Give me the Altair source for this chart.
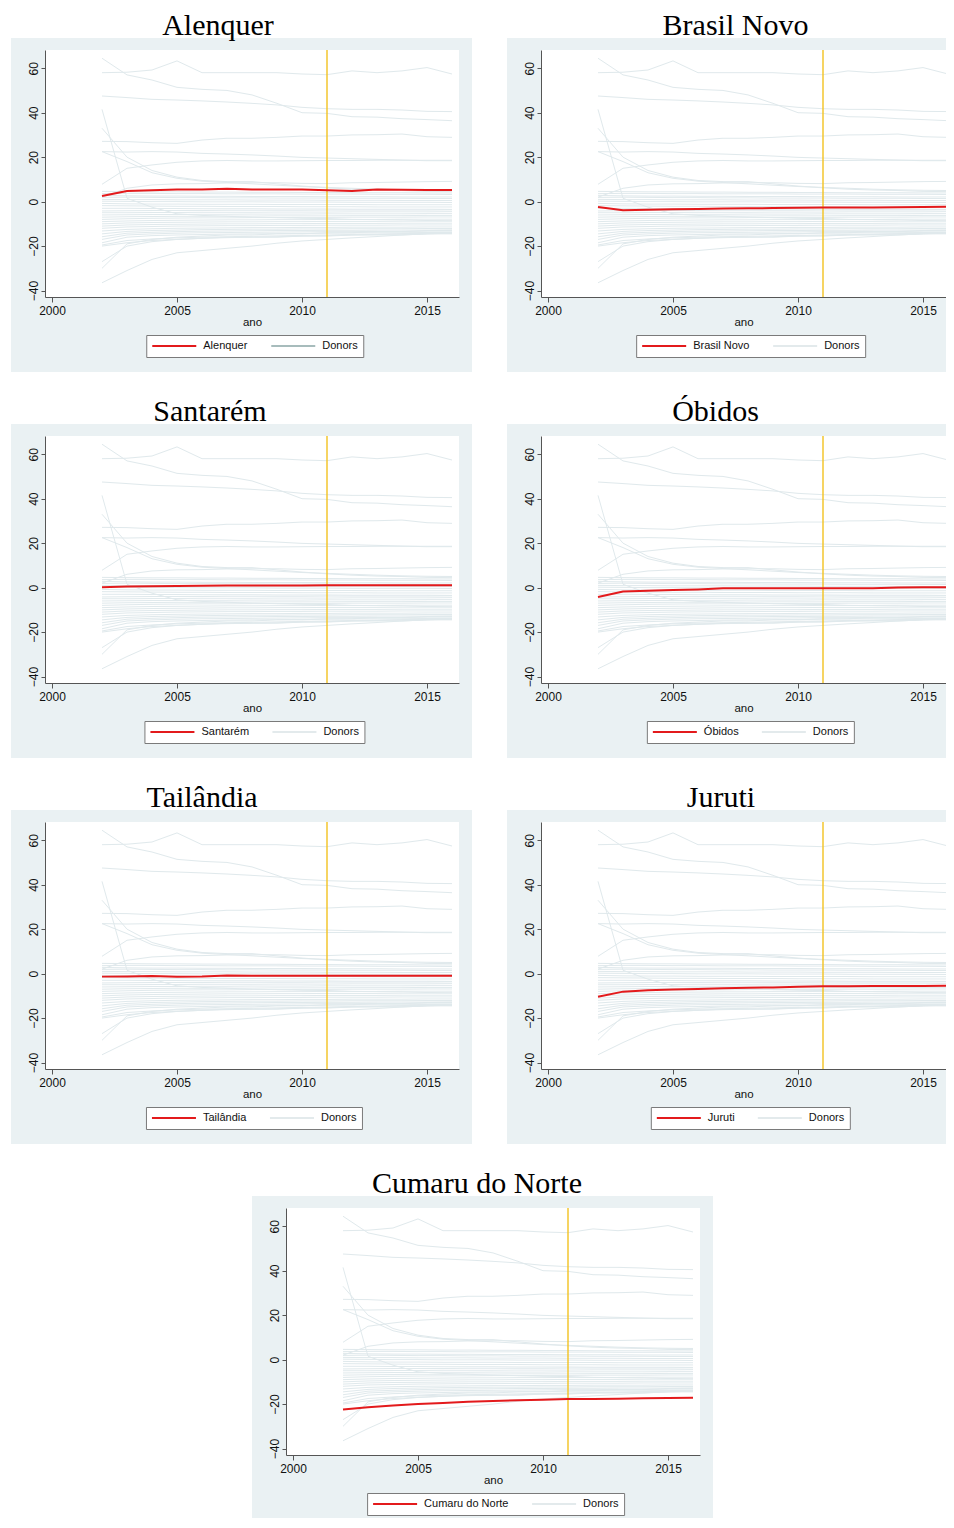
import altair as alt
import pandas as pd

years = list(range(2002, 2017))
treat_year = [2011]

# treated units (name -> series 2002..2016)
units = ["Alenquer", "Brasil Novo", "Santarém", "Óbidos", "Tailândia", "Juruti", "Cumaru do Norte"]
alenquer = [2.5, 4.8, 5.1, 5.4, 5.5, 5.8, 5.5, 5.5, 5.5, 5.1, 4.8, 5.4, 5.3, 5.2, 5.2]
brasil_novo = [-2.4, -3.9, -3.6, -3.4, -3.3, -3.1, -3.0, -2.9, -2.8, -2.6, -2.6, -2.6, -2.5, -2.4, -2.3]
santarem = [0.2, 0.45, 0.6, 0.7, 0.8, 1.0, 1.0, 1.0, 1.0, 1.1, 1.1, 1.1, 1.1, 1.1, 1.1]
obidos = [-4.2, -1.7, -1.4, -1.1, -0.8, -0.3, -0.3, -0.3, -0.3, -0.3, -0.3, -0.3, 0.1, 0.2, 0.2]
tailandia = [-1.35, -1.3, -1.1, -1.35, -1.3, -0.9, -1.0, -1.0, -1.0, -1.0, -1.0, -1.0, -1.0, -1.0, -1.0]
juruti = [-10.4, -8.1, -7.5, -7.1, -6.9, -6.6, -6.3, -6.2, -5.9, -5.7, -5.7, -5.6, -5.6, -5.6, -5.4]
cumaru = [-22.4, -21.4, -20.6, -20.0, -19.5, -18.9, -18.6, -18.3, -18.0, -17.7, -17.7, -17.6, -17.4, -17.3, -17.1]
treated = [alenquer, brasil_novo, santarem, obidos, tailandia, juruti, cumaru]

# donor pool (same in every panel), 2002..2016
donors = [
    [64.5, 57.0, 54.7, 51.4, 50.5, 50.0, 48.0, 44.2, 40.0, 39.7, 38.2, 38.0, 37.3, 36.9, 36.4],
    [58.0, 58.2, 59.2, 63.3, 58.0, 58.0, 58.0, 58.0, 57.4, 57.1, 58.8, 58.0, 58.8, 60.3, 57.4],
    [47.5, 46.8, 46.0, 45.7, 45.3, 44.8, 44.2, 43.5, 42.4, 41.8, 41.5, 41.5, 41.2, 40.6, 40.5],
    [27.1, 27.0, 26.5, 26.2, 27.7, 28.5, 28.5, 28.9, 29.5, 29.5, 30.0, 30.1, 30.4, 29.2, 28.9],
    [22.5, 22.3, 22.5, 22.3, 21.7, 21.4, 21.0, 20.5, 19.9, 19.6, 19.3, 19.0, 18.7, 18.4, 18.4],
    [7.8, 15.0, 16.5, 17.7, 18.3, 18.5, 18.3, 18.3, 18.4, 18.5, 18.5, 18.6, 18.6, 18.6, 18.6],
    [41.5, 1.5, -2.5, -5.5, -6.2, -6.6, -7.0, -7.2, -7.5, -7.6, -8.0, -8.1, -8.2, -8.5, -8.6],
    [33.0, 20.0, 14.0, 11.0, 9.5, 9.0, 9.0, 8.0, 7.0, 6.2, 5.6, 5.2, 5.0, 4.6, 4.5],
    [22.5, 18.0, 13.0, 10.5, 9.2, 8.6, 8.0, 7.4, 6.8, 6.4, 6.0, 5.6, 5.3, 5.1, 5.0],
    [2.0, 6.0, 7.5, 8.0, 8.1, 8.4, 8.5, 8.5, 8.2, 8.1, 8.5, 8.6, 8.8, 9.0, 9.1],
    [-36.5, -31.0, -26.0, -23.0, -22.0, -21.0, -20.0, -18.7, -17.7, -17.0, -16.3, -15.7, -15.0, -14.5, -14.2],
    [-30.0, -19.0, -17.0, -16.0, -15.5, -15.0, -15.0, -14.5, -14.5, -14.0, -14.0, -13.5, -13.5, -13.0, -13.0],
    [-27.0, -20.0, -18.0, -17.0, -16.5, -16.0, -16.0, -16.0, -15.5, -15.5, -15.0, -15.0, -15.0, -14.5, -14.5],
    [4.6, 4.5, 4.4, 4.4, 4.3, 4.3, 4.2, 4.2, 4.1, 4.1, 4.0, 4.0, 4.0, 3.9, 3.9],
    [3.6, 3.7, 3.7, 3.6, 3.6, 3.5, 3.5, 3.5, 3.4, 3.4, 3.4, 3.3, 3.3, 3.3, 3.2],
    [2.8, 2.6, 2.5, 2.5, 2.4, 2.4, 2.3, 2.3, 2.3, 2.2, 2.2, 2.2, 2.1, 2.1, 2.1],
    [1.9, 2.0, 1.9, 1.8, 1.8, 1.7, 1.7, 1.6, 1.6, 1.6, 1.5, 1.5, 1.5, 1.4, 1.4],
    [1.0, 0.9, 0.9, 0.8, 0.8, 0.8, 0.7, 0.7, 0.7, 0.6, 0.6, 0.6, 0.5, 0.5, 0.5],
    [0.2, 0.1, 0.0, 0.0, -0.1, -0.1, -0.1, -0.2, -0.2, -0.2, -0.3, -0.3, -0.3, -0.3, -0.4],
    [-0.8, -1.0, -1.1, -1.1, -1.2, -1.2, -1.2, -1.3, -1.3, -1.3, -1.3, -1.4, -1.4, -1.4, -1.4],
    [-1.8, -1.9, -2.0, -2.1, -2.1, -2.2, -2.2, -2.2, -2.3, -2.3, -2.3, -2.4, -2.4, -2.4, -2.4],
    [-3.0, -3.0, -3.1, -3.1, -3.2, -3.2, -3.2, -3.3, -3.3, -3.3, -3.4, -3.4, -3.4, -3.4, -3.5],
    [-4.2, -4.1, -4.0, -4.0, -4.0, -3.9, -3.9, -3.9, -3.9, -3.8, -3.8, -3.8, -3.8, -3.8, -3.7],
    [-5.0, -5.0, -4.9, -4.9, -4.8, -4.8, -4.8, -4.7, -4.7, -4.7, -4.6, -4.6, -4.6, -4.6, -4.5],
    [-6.0, -5.9, -5.8, -5.8, -5.7, -5.7, -5.6, -5.6, -5.6, -5.5, -5.5, -5.5, -5.5, -5.4, -5.4],
    [-7.0, -6.8, -6.7, -6.6, -6.6, -6.5, -6.5, -6.4, -6.4, -6.4, -6.3, -6.3, -6.3, -6.2, -6.2],
    [-8.0, -7.7, -7.5, -7.4, -7.3, -7.3, -7.2, -7.2, -7.1, -7.1, -7.0, -7.0, -7.0, -6.9, -6.9],
    [-9.0, -8.7, -8.5, -8.4, -8.3, -8.2, -8.2, -8.1, -8.1, -8.0, -8.0, -8.0, -7.9, -7.9, -7.9],
    [-10.0, -9.6, -9.4, -9.3, -9.2, -9.1, -9.1, -9.0, -9.0, -8.9, -8.9, -8.9, -8.8, -8.8, -8.8],
    [-11.0, -10.5, -10.3, -10.2, -10.1, -10.0, -10.0, -9.9, -9.9, -9.8, -9.8, -9.8, -9.7, -9.7, -9.7],
    [-12.0, -11.4, -11.2, -11.0, -10.9, -10.8, -10.8, -10.7, -10.7, -10.6, -10.6, -10.6, -10.5, -10.5, -10.5],
    [-13.2, -12.5, -12.2, -12.0, -11.9, -11.8, -11.7, -11.7, -11.6, -11.6, -11.5, -11.5, -11.5, -11.4, -11.4],
    [-14.5, -13.4, -13.0, -12.8, -12.6, -12.5, -12.4, -12.4, -12.3, -12.3, -12.2, -12.2, -12.2, -12.1, -12.1],
    [-15.8, -14.2, -13.8, -13.5, -13.3, -13.2, -13.1, -13.0, -13.0, -12.9, -12.9, -12.8, -12.8, -12.8, -12.7],
    [-17.0, -15.0, -14.5, -14.2, -14.0, -13.9, -13.8, -13.7, -13.6, -13.5, -13.5, -13.4, -13.4, -13.3, -13.3],
    [-18.5, -16.0, -15.3, -15.0, -14.8, -14.6, -14.5, -14.4, -14.3, -14.2, -14.1, -14.0, -14.0, -13.9, -13.9],
    [-19.5, -17.5, -16.8, -16.3, -16.0, -15.8, -15.6, -15.4, -15.2, -15.0, -14.8, -14.6, -14.4, -14.2, -14.0],
    [-20.0, -18.5, -17.5, -17.0, -16.5, -16.2, -16.0, -15.8, -15.5, -15.3, -15.0, -14.8, -14.6, -14.4, -14.2],
]

x_ticks = [2000, 2005, 2010, 2015]
y_ticks = [-40, -20, 0, 20, 40, 60]

# ---------------------------------------------------------------- styling
BG = "#eaf1f3"
DONOR = "#e0e9ec"
RED = "#e31a1c"
GOLD = "#f3c220"
SANS = "Liberation Sans"
SERIF = "Liberation Serif"
W, H = 414, 247
PXY = 25.0            # pixels per year
X0 = 1999.72
SYM = 44
LOFF = 6
COLPAD = 22
LPAD = 5
LFS = 11

AW = {c: w for c, w in zip(
    "ABCDEFGHIJKLMNOPQRSTUVWXYZabcdefghijklmnopqrstuvwxyz ",
    [667, 667, 722, 722, 667, 611, 778, 722, 278, 500, 667, 556, 833, 722, 778, 667, 778, 722, 667, 611, 722, 667, 944, 667, 667, 611,
     556, 556, 500, 556, 556, 278, 556, 556, 222, 222, 500, 222, 833, 556, 556, 556, 556, 333, 500, 278, 556, 500, 722, 500, 500, 500, 278])}
AW.update({"é": 556, "â": 556, "Ó": 778})


def text_w(s, fs):
    return sum(AW.get(c, 556) for c in s) / 1000.0 * fs


donor_rows = []
for i, series in enumerate(donors):
    for yr, v in zip(years, series):
        donor_rows.append({"year": yr, "value": v, "id": f"d{i}"})
donor_df = pd.DataFrame(donor_rows)
rule_df = pd.DataFrame({"year": treat_year})
one = pd.DataFrame({"k": [0]})

ys = alt.Scale(domain=[-42.9, 68.2], nice=False, zero=False)

y_axis = alt.Axis(values=y_ticks, title=None, grid=False, tickSize=4, labelAngle=270,
                  labelAlign="center", labelBaseline="bottom", labelPadding=1,
                  labelFont=SANS, labelFontSize=12, labelColor="#111",
                  domainColor="#555", tickColor="#555", zindex=1)


def x_axis():
    return alt.Axis(values=x_ticks, format="d", title="ano", grid=False, tickSize=5,
                    labelFont=SANS, labelFontSize=12, labelColor="#111", labelPadding=3,
                    titleFont=SANS, titleFontSize=11.5, titleFontWeight="normal", titleColor="#111",
                    titlePadding=0, domainColor="#555", tickColor="#555", zindex=1)


def panel(name, series, title_center, donor_legend_color, width=W, rect_left=-34, rect_right=W + 13,
          rect_bottom=H + 75):
    tdf = pd.DataFrame({"year": years, "value": series, "unit": name})
    xs = alt.Scale(domain=[X0, X0 + width / PXY], nice=False, zero=False)
    bg = alt.Chart(one).mark_rect(color=BG).encode(
        x=alt.value(rect_left), x2=alt.value(rect_right), y=alt.value(-12), y2=alt.value(rect_bottom))
    plotbg = alt.Chart(one).mark_rect(color="white").encode(
        x=alt.value(0), x2=alt.value(width), y=alt.value(0), y2=alt.value(H))
    dlines = alt.Chart(donor_df).mark_line(color=DONOR, strokeWidth=1, clip=True).encode(
        x=alt.X("year:Q", scale=xs, axis=x_axis()),
        y=alt.Y("value:Q", scale=ys, axis=y_axis),
        detail="id:N")
    rule = alt.Chart(rule_df).mark_rule(color=GOLD, strokeWidth=1.4).encode(x="year:Q")
    lw = 2 * LPAD + SYM + LOFF + text_w(name, LFS) + COLPAD + SYM + LOFF + text_w("Donors", LFS)
    legend = alt.Legend(title=None, orient="none", legendX=W / 2 - lw / 2, legendY=285,
                        direction="horizontal", symbolType="stroke", symbolSize=SYM * SYM,
                        symbolStrokeWidth=2, clipHeight=12, labelFont=SANS, labelFontSize=LFS,
                        labelColor="#111", labelOffset=LOFF, columnPadding=COLPAD, padding=LPAD,
                        strokeColor="#7a7a7a", fillColor="white", zindex=1)
    red = alt.Chart(tdf).mark_line(strokeWidth=2, clip=True).encode(
        x="year:Q", y="value:Q",
        color=alt.Color("unit:N", scale=alt.Scale(domain=[name, "Donors"], range=[RED, donor_legend_color]),
                        legend=legend))
    return alt.layer(bg, plotbg, dlines, rule, red).properties(
        width=width, height=H,
        title=alt.Title(name, font=SERIF, fontSize=30, fontWeight="normal", color="#000",
                        offset=-3, dx=title_center - width / 2, frame="group", anchor="middle"))


WR = 405  # right-hand panels are cut at the page edge
LC = "#e3eaec"
p = [
    panel(units[0], treated[0], 173, "#a7bcbc"),
    panel(units[1], treated[1], 194.5, LC, width=WR, rect_right=WR),
    panel(units[2], treated[2], 165, LC),
    panel(units[3], treated[3], 174.5, LC, width=WR, rect_right=WR),
    panel(units[4], treated[4], 157, LC),
    panel(units[5], treated[5], 180, LC, width=WR, rect_right=WR),
    panel(units[6], treated[6], 191, LC, rect_bottom=H + 63),
]

spacer = alt.Chart(one).mark_rect(opacity=0).encode(
    x=alt.value(0), x2=alt.value(1), y=alt.value(0), y2=alt.value(1)).properties(width=207, height=1)


def row(a, b, sp=35):
    return alt.hconcat(a, b, spacing=sp).resolve_scale(color="independent").resolve_legend(color="independent")


chart = alt.vconcat(row(p[0], p[1]), row(p[2], p[3]), row(p[4], p[5]), row(spacer, p[6], sp=0),
                    spacing=25).resolve_scale(color="independent").resolve_legend(
    color="independent").properties(
    padding={"left": 3, "top": 3, "right": 0, "bottom": 0}, background="white"
).configure_view(stroke=None)

chart.save("out.html", embed_options={"renderer": "svg", "actions": False})
